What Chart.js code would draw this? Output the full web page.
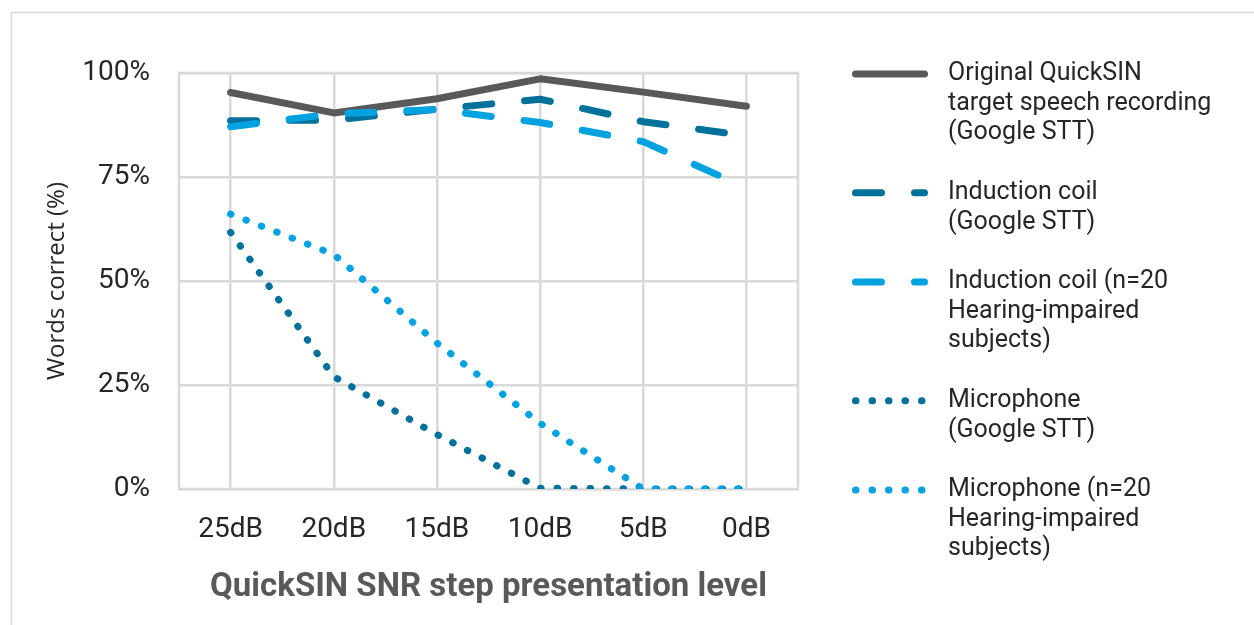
<!DOCTYPE html>
<html>
<head>
<meta charset="utf-8">
<script src="https://cdn.jsdelivr.net/npm/chart.js@4.4.1/dist/chart.umd.min.js"></script>
<style>
html,body{margin:0;padding:0;background:#fff;}
#wrap{position:relative;width:1254px;height:625px;}
</style>
</head>
<body>
<div id="wrap"><canvas id="c"></canvas></div>
<script>
// ---- data ----
const categories = ['25dB', '20dB', '15dB', '10dB', '5dB', '0dB'];
const originalRecording = [95.3, 90.4, 93.8, 98.6, 95.4, 92.0];
const inductionGoogle   = [88.5, 88.7, 91.3, 93.7, 88.3, 84.9];
const inductionHI       = [87.1, 90.2, 91.2, 88.1, 83.5, 72.4];
const microphoneGoogle  = [61.7, 27.0, 13.1, 0.2, 0, 0];
const microphoneHI      = [66.1, 56.4, 35.1, 15.8, 0, 0];
const yTickValues = [0, 25, 50, 75, 100];
const seriesLabels = [
  ['Original QuickSIN', 'target speech recording', '(Google STT)'],
  ['Induction coil', '(Google STT)'],
  ['Induction coil (n=20', 'Hearing-impaired', 'subjects)'],
  ['Microphone', '(Google STT)'],
  ['Microphone (n=20', 'Hearing-impaired', 'subjects)']
];
const yTitle = 'Words correct (%)';
const xTitle = 'QuickSIN SNR step presentation level';

// ---- styles ----
const GRID = '#d9d9d9';
const DARK_BLUE = '#00719a';
const LIGHT_BLUE = '#00a3e0';
const GRAY = '#595959';
const DASH = [26, 33];
const DOT = [0.5, 16];

function mk(label, data, color, dash, order) {
  return {
    label: label.join(' '), data, borderColor: color, backgroundColor: color,
    borderWidth: 7, borderDash: dash, borderCapStyle: 'round', borderJoinStyle: 'round',
    pointRadius: 0, pointHoverRadius: 0, tension: 0, fill: false, order
  };
}

const datasets = [
  mk(seriesLabels[0], originalRecording, GRAY, [], 5),
  mk(seriesLabels[1], inductionGoogle, DARK_BLUE, DASH, 4),
  mk(seriesLabels[2], inductionHI, LIGHT_BLUE, DASH, 3),
  mk(seriesLabels[3], microphoneGoogle, DARK_BLUE, DOT, 2),
  mk(seriesLabels[4], microphoneHI, LIGHT_BLUE, DOT, 1)
];

const framePlugin = {
  id: 'frame',
  beforeDraw(chart) {
    const ctx = chart.ctx;
    ctx.save();
    ctx.strokeStyle = GRID;
    ctx.lineWidth = 1.5;
    ctx.strokeRect(11.5, 12.5, 1400, 800);
    ctx.restore();
  },
  beforeDatasetsDraw(chart) {
    const ctx = chart.ctx;
    const a = chart.chartArea;
    ctx.save();
    ctx.strokeStyle = GRID;
    ctx.lineWidth = 2.5;
    ctx.strokeRect(a.left, a.top, a.right - a.left, a.bottom - a.top);
    ctx.restore();
  }
};

const legendPlugin = {
  id: 'customLegend',
  afterDraw(chart) {
    const ctx = chart.ctx;
    const x0 = 855.5, x1 = 924.5, tx = 948;
    const lineH = 29.6, itemGap = 30;
    let y = 74;
    ctx.save();
    chart.data.datasets.forEach((ds, i) => {
      ctx.save();
      ctx.strokeStyle = ds.borderColor;
      ctx.lineWidth = ds.borderWidth;
      ctx.lineCap = 'round';
      ctx.setLineDash(ds.borderDash || []);
      ctx.beginPath();
      ctx.moveTo(x0, y);
      ctx.lineTo(x1, y);
      ctx.stroke();
      ctx.restore();
      ctx.fillStyle = '#262626';
      ctx.font = '25px Roboto';
      ctx.textAlign = 'left';
      ctx.textBaseline = 'middle';
      const lines = seriesLabels[i];
      lines.forEach((t, k) => ctx.fillText(t, tx, y + k * lineH));
      y += lines.length * lineH + itemGap;
    });
    ctx.restore();
  }
};

new Chart(document.getElementById('c'), {
  type: 'line',
  data: { labels: categories, datasets },
  plugins: [framePlugin, legendPlugin],
  options: {
    responsive: true,
    maintainAspectRatio: false,
    animation: false,
    layout: { padding: { left: 0, right: 456, top: 73, bottom: 0 } },
    plugins: { legend: { display: false }, tooltip: { enabled: false } },
    scales: {
      x: {
        offset: true,
        grid: { color: GRID, lineWidth: 2.5, offset: false, drawTicks: false },
        border: { display: false },
        ticks: { color: '#262626', font: { family: 'Roboto', size: 28 }, padding: 24, maxRotation: 0 },
        title: { display: true, text: xTitle, color: GRAY,
                 font: { family: 'Roboto', size: 33, weight: 'bold' }, padding: { top: 0, bottom: 17 } },
        afterFit(s) { s.height = 136; }
      },
      y: {
        min: 0, max: 100,
        afterBuildTicks(s) { s.ticks = yTickValues.map(v => ({ value: v })); },
        grid: { color: GRID, lineWidth: 2.5, drawTicks: false },
        border: { display: false },
        ticks: { color: '#262626', font: { family: 'Roboto', size: 28 }, padding: 29,
                 callback: v => v + '%' },
        title: { display: true, text: yTitle, color: '#262626',
                 font: { family: 'Open Sans', size: 24 }, padding: { top: 43, bottom: 0 } },
        afterFit(s) { s.width = 179; }
      }
    }
  }
});
</script>
</body>
</html>
